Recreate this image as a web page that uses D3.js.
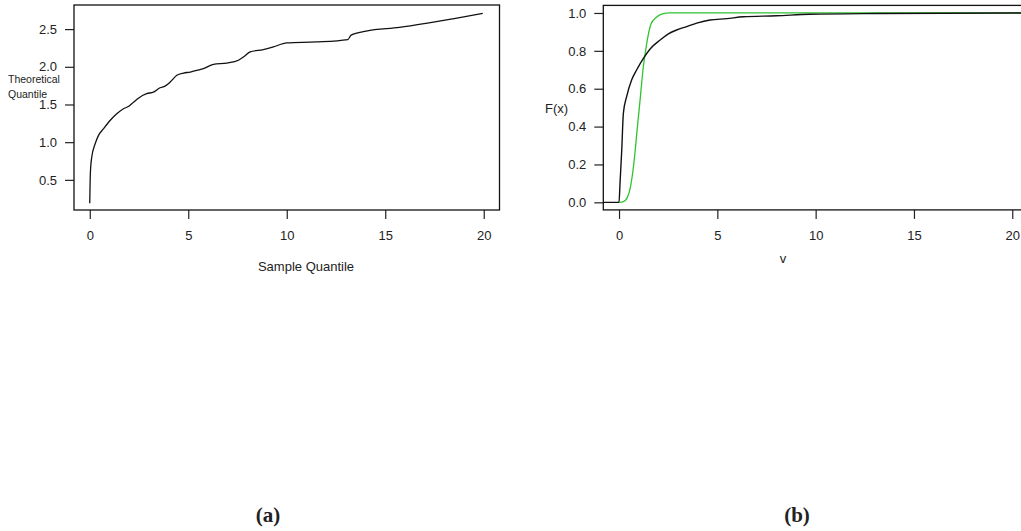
<!DOCTYPE html>
<html>
<head>
<meta charset="utf-8">
<script src="https://cdn.jsdelivr.net/npm/d3@7/dist/d3.min.js"></script>
<style>
  body { margin: 0; background: #fff; }
  text { font-family: "Liberation Sans", Arial, sans-serif; fill: #222; }
</style>
</head>
<body>
<script>
// (a) QQ plot: sample quantile vs theoretical quantile
var qqSample = [0, 0.03, 0.1, 0.27, 0.44, 0.69, 1.03, 1.37, 1.71, 1.96, 2.22, 2.47, 2.89, 3.23,
                3.57, 3.82, 4.08, 4.42, 4.76, 5.1, 5.43, 5.77, 6.28, 6.96, 7.55, 7.8, 8.14, 8.81,
                9.32, 10, 11.5, 13.1, 13.27, 14.03, 15.72, 17.07, 18.43, 19.95];
var qqTheory = [0.19, 0.58, 0.8, 0.976, 1.087, 1.175, 1.287, 1.376, 1.443, 1.473, 1.53, 1.584, 1.643, 1.664,
                1.722, 1.744, 1.797, 1.887, 1.917, 1.93, 1.953, 1.976, 2.033, 2.05, 2.087, 2.13, 2.197, 2.229,
                2.264, 2.317, 2.33, 2.362, 2.42, 2.473, 2.522, 2.576, 2.637, 2.709];
var qqXTicks = [0, 5, 10, 15, 20];
var qqYTicks = [0.5, 1.0, 1.5, 2.0, 2.5];

// (b) empirical CDF (black) and fitted CDF (green)
var ecdfV = [-1, 0, 0.05, 0.14, 0.22, 0.39, 0.64, 0.9, 1.24, 1.58, 2.09, 2.51, 2.93, 3.44, 3.95,
             4.63, 5.48, 6.32, 8.0, 9.7, 13.1, 19.9, 22];
var ecdfF = [0, 0, 0.1, 0.28, 0.47, 0.56, 0.646, 0.70, 0.76, 0.81, 0.857, 0.89, 0.91, 0.928, 0.946,
             0.963, 0.97, 0.98, 0.985, 0.993, 0.997, 1.0, 1.0];
var fitV = [0.02, 0.22, 0.42, 0.58, 0.7, 0.8, 0.9, 1.07, 1.24, 1.41, 1.62, 1.9, 2.2, 2.6, 22];
var fitF = [0, 0.004, 0.025, 0.08, 0.16, 0.25, 0.36, 0.54, 0.72, 0.84, 0.94, 0.977, 0.995, 1.0, 1.0];
var cdfXTicks = [0, 5, 10, 15, 20];
var cdfYTicks = [0, 0.2, 0.4, 0.6, 0.8, 1.0];

var W = 1021, H = 531;
var svg = d3.select("body").append("svg")
            .attr("width", W)
            .attr("height", H);

function panel(id, box, xDom, yDom, xTicks, yTicks, yFmt) {
  var x = d3.scaleLinear().domain(xDom).range([box.l, box.r]);
  var y = d3.scaleLinear().domain(yDom).range([box.b, box.t]);
  var g = svg.append("g");

  svg.append("clipPath").attr("id", id)
     .append("rect")
     .attr("x", box.l).attr("y", box.t)
     .attr("width", box.r - box.l).attr("height", box.b - box.t);

  var xa = g.append("g")
            .attr("transform", "translate(0," + box.b + ")")
            .call(d3.axisBottom(x).tickValues(xTicks).tickSize(9).tickPadding(12).tickFormat(d3.format("d")));
  var ya = g.append("g")
            .attr("transform", "translate(" + box.l + ",0)")
            .call(d3.axisLeft(y).tickValues(yTicks).tickSize(9).tickPadding(8).tickFormat(yFmt));
  [xa, ya].forEach(function (a) {
    a.select(".domain").remove();
    a.selectAll("line").attr("stroke", "#222").attr("stroke-width", 1.2);
    a.selectAll("text").attr("font-size", "13px").attr("fill", "#222")
     .attr("font-family", "Liberation Sans, Arial, sans-serif");
  });

  g.append("rect")
   .attr("x", box.l).attr("y", box.t)
   .attr("width", box.r - box.l).attr("height", box.b - box.t)
   .attr("fill", "none").attr("stroke", "#111").attr("stroke-width", 1.3);

  return { x: x, y: y, g: g };
}

function drawLine(p, clip, xs, ys, color, width) {
  var pts = xs.map(function (d, i) { return [d, ys[i]]; });
  p.g.append("path")
     .datum(pts)
     .attr("clip-path", "url(#" + clip + ")")
     .attr("fill", "none")
     .attr("stroke", color)
     .attr("stroke-width", width)
     .attr("stroke-linejoin", "round")
     .attr("d", d3.line()
       .x(function (d) { return p.x(d[0]); })
       .y(function (d) { return p.y(d[1]); })
       .curve(d3.curveMonotoneX));
}

// panel a
var pa = panel("clipA", { l: 74, r: 499.5, t: 5, b: 210 }, [-0.8, 20.8], [0.1, 2.82],
               qqXTicks, qqYTicks, d3.format(".1f"));
drawLine(pa, "clipA", qqSample, qqTheory, "#111", 1.3);

svg.append("text").attr("x", 306).attr("y", 271)
   .attr("text-anchor", "middle").attr("font-size", "13px")
   .text("Sample Quantile");
svg.append("text").attr("x", 8).attr("y", 83)
   .attr("font-size", "10.5px").attr("fill", "#444")
   .text("Theoretical");
svg.append("text").attr("x", 8).attr("y", 98)
   .attr("font-size", "10.5px").attr("fill", "#444")
   .text("Quantile");

// panel b
var pb = panel("clipB", { l: 603.3, r: 1028, t: 5.4, b: 209.9 }, [-0.8, 20.8], [-0.04, 1.04],
               cdfXTicks, cdfYTicks, d3.format(".1f"));
drawLine(pb, "clipB", fitV, fitF, "#2ec42e", 1.3);
drawLine(pb, "clipB", ecdfV, ecdfF, "#111", 1.4);

svg.append("text").attr("x", 545).attr("y", 113)
   .attr("font-size", "13px")
   .text("F(x)");
svg.append("text").attr("x", 783).attr("y", 263)
   .attr("text-anchor", "middle").attr("font-size", "13px")
   .text("v");

// captions
svg.append("text").attr("x", 268).attr("y", 522)
   .attr("text-anchor", "middle")
   .attr("font-weight", "bold").attr("font-size", "21px")
   .style("font-family", "Liberation Serif, serif")
   .text("(a)");
svg.append("text").attr("x", 797).attr("y", 522)
   .attr("text-anchor", "middle")
   .attr("font-weight", "bold").attr("font-size", "21px")
   .style("font-family", "Liberation Serif, serif")
   .text("(b)");
</script>
</body>
</html>
